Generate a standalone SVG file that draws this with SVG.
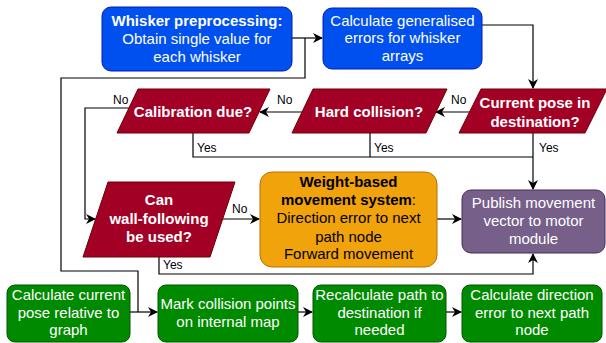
<svg xmlns="http://www.w3.org/2000/svg" width="606" height="343" viewBox="0 0 606 343">
<style>
text{font-family:"Liberation Sans",Arial,sans-serif;font-size:15px;text-anchor:middle}
.w{fill:#ffffff}
.b{font-weight:bold}
.lbl{font-size:12px;fill:#000;text-anchor:start}
.blue{fill:#0050ef;stroke:#001dbc;stroke-width:1}
.red{fill:#a20025;stroke:#6f0000;stroke-width:1}
.org{fill:#f0a30a;stroke:#bd7000;stroke-width:1}
.pur{fill:#76608a;stroke:#432d57;stroke-width:1}
.grn{fill:#008a00;stroke:#005700;stroke-width:1}
.c{fill:none;stroke:#000;stroke-width:1.2}
.a{marker-end:url(#ah)}
</style>
<defs>
<marker id="ah" viewBox="0 0 10 10" refX="9" refY="5" markerWidth="10" markerHeight="10" markerUnits="userSpaceOnUse" orient="auto">
<path d="M0,0 L10,5 L0,10 L3,5 Z" fill="#000"/>
</marker>
</defs>
<g id="connectors">
<path class="c a" d="M292,38 H322"/>
<path class="c" d="M305,38 V78 H61 V271 H138 V312"/>
<path class="c a" d="M482,25 H533 V88"/>
<path class="c a" d="M470,112 H436"/>
<path class="c a" d="M303,112 H260"/>
<path class="c a" d="M129,108 H85 V219 H95"/>
<path class="c" d="M193,133 V157 H533"/>
<path class="c" d="M370,133 V157"/>
<path class="c a" d="M533,133 V189"/>
<path class="c a" d="M223,219 H259"/>
<path class="c a" d="M159,257 V274 H533 V254"/>
<path class="c a" d="M437,219 H461"/>
<path class="c a" d="M130,312 H157"/>
<path class="c a" d="M298,312 H312"/>
<path class="c a" d="M446,312 H461"/>
<text class="lbl" x="451" y="104">No</text>
<text class="lbl" x="277" y="104">No</text>
<text class="lbl" x="113" y="104">No</text>
<text class="lbl" x="197" y="152">Yes</text>
<text class="lbl" x="374" y="152">Yes</text>
<text class="lbl" x="539" y="152">Yes</text>
<text class="lbl" x="232" y="213">No</text>
<text class="lbl" x="163" y="269">Yes</text>
</g>
<g id="whisker">
<rect class="blue" x="102" y="7" width="190" height="64" rx="9"/>
<text class="w b" x="197" y="26">Whisker preprocessing:</text>
<text class="w" x="197" y="44">Obtain single value for</text>
<text class="w" x="197" y="62">each whisker</text>
</g>
<g id="generalised">
<rect class="blue" x="323" y="8" width="159" height="61" rx="9"/>
<text class="w" x="402.5" y="26">Calculate generalised</text>
<text class="w" x="402.5" y="43">errors for whisker</text>
<text class="w" x="402.5" y="61">arrays</text>
</g>
<g id="current-pose">
<polygon class="red" points="481,89 607,89 585,133 459,133"/>
<text class="w b" x="535" y="108">Current pose in</text>
<text class="w b" x="535" y="127">destination?</text>
</g>
<g id="hard-collision">
<polygon class="red" points="313,89 447,89 426,133 292,133"/>
<text class="w b" x="369" y="117">Hard collision?</text>
</g>
<g id="calibration">
<polygon class="red" points="138,89 270,89 249,133 117,133"/>
<text class="w b" x="193" y="117">Calibration due?</text>
</g>
<g id="wall-following">
<polygon class="red" points="108,182 235,182 210,257 83,257"/>
<text class="w b" x="159" y="205">Can</text>
<text class="w b" x="159" y="224">wall-following</text>
<text class="w b" x="159" y="242">be used?</text>
</g>
<g id="weight-based">
<rect class="org" x="260" y="172" width="177" height="95" rx="12"/>
<text class="b" x="348.5" y="187">Weight-based</text>
<text x="348.5" y="205"><tspan class="b">movement system</tspan>:</text>
<text x="348.5" y="223">Direction error to next</text>
<text x="348.5" y="242">path node</text>
<text x="348.5" y="259">Forward movement</text>
</g>
<g id="publish">
<rect class="pur" x="462" y="190" width="143" height="63" rx="9"/>
<text class="w" x="533.5" y="208">Publish movement</text>
<text class="w" x="533.5" y="226">vector to motor</text>
<text class="w" x="533.5" y="244">module</text>
</g>
<g id="current-pose-graph">
<rect class="grn" x="7" y="285" width="123" height="57" rx="8"/>
<text class="w" x="68.5" y="300">Calculate current</text>
<text class="w" x="68.5" y="318">pose relative to</text>
<text class="w" x="68.5" y="335">graph</text>
</g>
<g id="mark-collision">
<rect class="grn" x="158" y="285" width="140" height="57" rx="8"/>
<text class="w" x="228" y="309">Mark collision points</text>
<text class="w" x="228" y="327">on internal map</text>
</g>
<g id="recalculate">
<rect class="grn" x="313" y="285" width="133" height="57" rx="8"/>
<text class="w" x="379.5" y="300">Recalculate path to</text>
<text class="w" x="379.5" y="318">destination if</text>
<text class="w" x="379.5" y="335">needed</text>
</g>
<g id="direction-error">
<rect class="grn" x="462" y="285" width="140" height="57" rx="8"/>
<text class="w" x="532" y="300">Calculate direction</text>
<text class="w" x="532" y="318">error to next path</text>
<text class="w" x="532" y="335">node</text>
</g>
</svg>
